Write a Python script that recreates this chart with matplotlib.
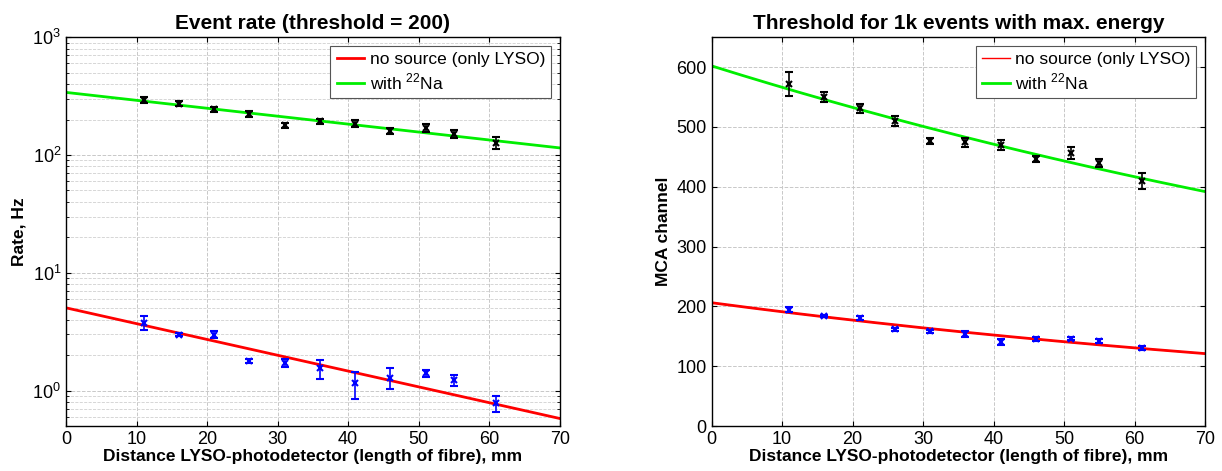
import numpy as np
import matplotlib
matplotlib.use("Agg")
import matplotlib.pyplot as plt

plt.rcParams['font.family'] = ['Liberation Sans', 'DejaVu Sans']
plt.rcParams['mathtext.fontset'] = 'custom'
plt.rcParams['mathtext.rm'] = 'Liberation Sans'

# distances (mm)
dist = [11, 16, 21, 26, 31, 36, 41, 46, 51, 55, 61]

# event rate, Hz
rate_na = [293, 273, 245, 223, 179, 194, 185, 160, 171, 151, 127]
rate_na_err = [18, 12, 12, 14, 9, 9, 12, 9, 14, 12, 15]
rate_bg = [3.77, 2.98, 2.98, 1.79, 1.72, 1.54, 1.15, 1.29, 1.40, 1.23, 0.78]
rate_bg_err = [0.5, 0.1, 0.2, 0.06, 0.15, 0.28, 0.3, 0.25, 0.1, 0.13, 0.12]

# threshold, MCA channel
thr_na = [572, 550, 531, 510, 476, 474, 470, 447, 457, 440, 410]
thr_na_err = [20, 9, 8, 8, 5, 8, 8, 5, 10, 7, 13]
thr_bg = [194.4, 184.4, 180.6, 161.7, 158.3, 153.3, 140.6, 145.6, 146.1, 142.2, 130.6]
thr_bg_err = [4.5, 2, 3, 3, 3, 5, 5, 3, 3, 4, 3]

# exponential fits: amplitude, decay per mm
fit_rate_na = (340.0, 0.0155)
fit_rate_bg = (5.04, 0.0309)
fit_thr_na = (602.0, 0.00613)
fit_thr_bg = (206.1, 0.0076)

xfit = np.linspace(0, 70, 200)
def expfit(p):
    return p[0] * np.exp(-p[1] * xfit)

fig = plt.figure(figsize=(12.22, 4.71), dpi=100)
ax1 = fig.add_axes([0.054, 0.0955, 0.404, 0.8255])
ax2 = fig.add_axes([0.5824, 0.0955, 0.4037, 0.8255])

xlab = 'Distance LYSO-photodetector (length of fibre), mm'

def style(ax):
    ax.set_xlim(0, 70)
    ax.set_xticks(range(0, 71, 10))
    ax.tick_params(direction='in', which='both', top=True, right=True, labelsize=13)
    ax.grid(True, which='major', ls='--', color='#c8c8c8', lw=0.7)
    ax.set_xlabel(xlab, fontsize=12.5, fontweight='bold', labelpad=1)
    for s in ax.spines.values():
        s.set_linewidth(1.0)

def legend(ax):
    leg = ax.legend(loc='upper right', fontsize=12.5, fancybox=False, framealpha=1,
                    edgecolor='#555555', handlelength=1.6, handletextpad=0.3,
                    borderpad=0.35, labelspacing=0.25, borderaxespad=0.5)
    leg.get_frame().set_linewidth(0.8)

# left: event rate
ax1.plot(xfit, expfit(fit_rate_bg), color='red', lw=2, label='no source (only LYSO)')
ax1.plot(xfit, expfit(fit_rate_na), color='#00ee00', lw=2, label='with $^{22}$Na')
ax1.errorbar(dist, rate_na, yerr=rate_na_err, fmt='x', color='black', ms=5, mew=1.5,
             capsize=3, elinewidth=1.2, capthick=1.5)
ax1.errorbar(dist, rate_bg, yerr=rate_bg_err, fmt='x', color='blue', ms=5, mew=1.5,
             capsize=3, elinewidth=1.2, capthick=1.5)
ax1.set_yscale('log')
ax1.set_ylim(0.5, 1000)
style(ax1)
ax1.grid(True, which='minor', axis='y', ls='--', color='#d0d0d0', lw=0.6)
ax1.set_ylabel('Rate, Hz', fontsize=12.5, fontweight='bold')
ax1.set_title('Event rate (threshold = 200)', fontsize=15, fontweight='bold')
legend(ax1)

# right: threshold
ax2.plot(xfit, expfit(fit_thr_bg), color='red', lw=1, label='no source (only LYSO)')
ax2.plot(xfit, expfit(fit_thr_na), color='#00ee00', lw=2, label='with $^{22}$Na')
ax2.plot(xfit, expfit(fit_thr_bg), color='red', lw=2)
ax2.errorbar(dist, thr_na, yerr=thr_na_err, fmt='x', color='black', ms=5, mew=1.5,
             capsize=3, elinewidth=1.2, capthick=1.5)
ax2.errorbar(dist, thr_bg, yerr=thr_bg_err, fmt='x', color='blue', ms=5, mew=1.5,
             capsize=3, elinewidth=1.2, capthick=1.5)
ax2.set_ylim(0, 650)
ax2.set_yticks(range(0, 601, 100))
style(ax2)
ax2.set_ylabel('MCA channel', fontsize=12.5, fontweight='bold')
ax2.set_title('Threshold for 1k events with max. energy', fontsize=15, fontweight='bold')
legend(ax2)

fig.savefig('out.png', dpi=100)
